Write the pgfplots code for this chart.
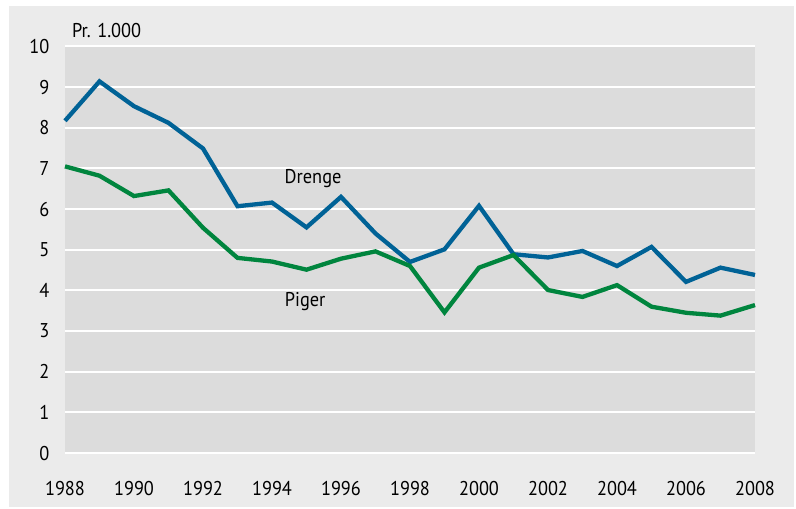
\documentclass[border=0pt]{standalone}
\usepackage{pgfplots}
\pgfplotsset{compat=1.18}
\usepackage{fontspec}
\setmainfont[FakeStretch=0.92]{PT Sans}
\definecolor{outergray}{HTML}{EBEBEB}
\definecolor{plotgray}{HTML}{DCDCDC}
\definecolor{drengeblue}{RGB}{0,98,150}
\definecolor{pigergreen}{RGB}{0,133,62}
\pgfplotstableread{
year val
1988 8.17
1989 9.14
1990 8.53
1991 8.12
1992 7.49
1993 6.07
1994 6.16
1995 5.55
1996 6.30
1997 5.40
1998 4.70
1999 5.01
2000 6.08
2001 4.89
2002 4.81
2003 4.97
2004 4.60
2005 5.07
2006 4.21
2007 4.56
2008 4.38
}\drenge
\pgfplotstableread{
year val
1988 7.05
1989 6.82
1990 6.32
1991 6.46
1992 5.54
1993 4.80
1994 4.71
1995 4.51
1996 4.78
1997 4.96
1998 4.60
1999 3.46
2000 4.56
2001 4.87
2002 4.01
2003 3.84
2004 4.13
2005 3.60
2006 3.45
2007 3.38
2008 3.64
}\piger
\begin{document}
\begin{tikzpicture}
\useasboundingbox (-65bp,-55.9bp) rectangle (731bp,453.1bp);
\fill[white] (-65bp,-55.9bp) rectangle (731bp,453.1bp);
\fill[outergray] (-56bp,-53.9bp) rectangle (729bp,447.1bp);
\begin{axis}[
  scale only axis,
  width=690bp, height=406.7bp,
  xmin=1988, xmax=2008, ymin=0, ymax=10,
  axis line style={draw=none},
  axis background/.style={fill=plotgray},
  clip=false,
  xtick={1988,1990,...,2008},
  ytick={0,1,...,10},
  major tick length=0pt,
  tick style={draw=none},
  ymajorgrids,
  grid style={white, line width=2bp},
  /pgf/number format/1000 sep={},
  /pgf/number format/assume math mode=true,
  tick label style={font=\fontsize{20}{24}\selectfont, text=black},
  yticklabel style={anchor=east, xshift=-12bp},
  xticklabel style={anchor=north, yshift=-25bp},
  every axis plot/.append style={line width=4.3bp},
]
\addplot[drengeblue, no markers] table[x=year,y=val] {\drenge};
\addplot[pigergreen, no markers] table[x=year,y=val] {\piger};
\node[anchor=base, font=\fontsize{20}{24}\selectfont] at (axis cs:1995.19,6.64) {Drenge};
\node[anchor=base, font=\fontsize{20}{24}\selectfont] at (axis cs:1994.96,3.60) {Piger};
\node[anchor=base west, inner sep=0pt, font=\fontsize{20}{24}\selectfont] at (axis cs:1988.2,10.23) {Pr. 1.000};
\end{axis}
\end{tikzpicture}
\end{document}
